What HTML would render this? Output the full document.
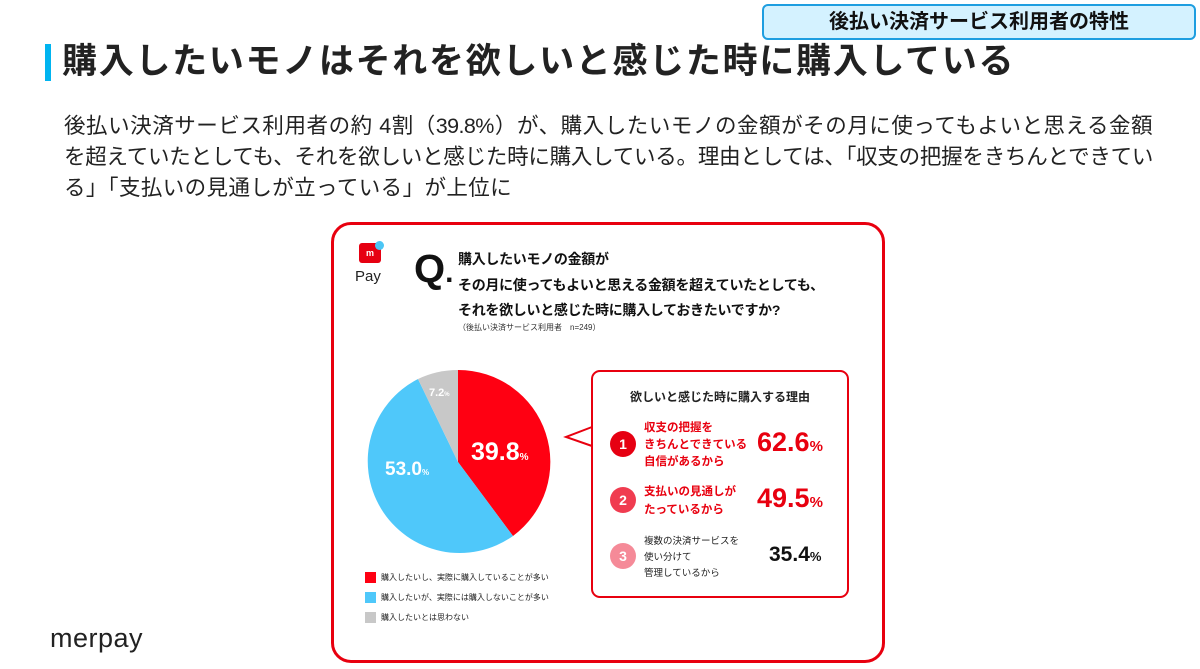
<!DOCTYPE html>
<html><head><meta charset="utf-8"><style>
*{margin:0;padding:0;box-sizing:border-box}
body{width:1200px;height:669px;background:#fff;position:relative;overflow:hidden;font-family:"Liberation Sans","Noto Sans CJK JP",sans-serif;color:#222}
.a{position:absolute;white-space:nowrap}
.j{position:absolute;left:64px;width:1088px;font-size:21.5px;line-height:31px;color:#222;text-align:justify;text-align-last:justify;white-space:nowrap;overflow:hidden}
</style></head><body>
<div class="a" style="left:762px;top:4px;width:434px;height:36px;background:#d4f2ff;border:2px solid #1e9ee0;border-radius:6px;text-align:center;font-size:20px;font-weight:bold;line-height:32px;color:#111">後払い決済サービス利用者の特性</div>
<div class="a" style="left:45px;top:44px;width:6px;height:37px;background:#00b4f0"></div>
<div class="a" style="left:62px;top:38px;font-size:35px;font-weight:bold;line-height:48px;color:#222;letter-spacing:1.7px">購入したいモノはそれを欲しいと感じた時に購入している</div>
<div class="j" style="top:111px;letter-spacing:-0.6px">後払い決済サービス利用者の約 4割（39.8%）が、購入したいモノの金額がその月に使ってもよいと思える金額</div>
<div class="j" style="top:142px;letter-spacing:-1.4px">を超えていたとしても、それを欲しいと感じた時に購入している。理由としては、「収支の把握をきちんとできてい</div>
<div class="a" style="left:64px;top:173px;font-size:21.5px;line-height:31px;color:#222;letter-spacing:0.4px">る」「支払いの見通しが立っている」が上位に</div>

<div class="a" style="left:331px;top:222px;width:554px;height:441px;border:3px solid #e8000f;border-radius:20px"></div>
<div class="a" style="left:359px;top:243px;width:22px;height:20px;background:#e60012;border-radius:3px;color:#fff;font-size:9px;font-weight:bold;text-align:center;line-height:20px">m</div>
<div class="a" style="left:375px;top:241px;width:9px;height:9px;background:#4cc6f5;border-radius:50%"></div>
<div class="a" style="left:355px;top:268px;font-size:15px;line-height:18px;color:#222">Pay</div>
<div class="a" style="left:414px;top:246px;font-size:40px;font-weight:bold;line-height:46px;color:#111">Q<span style="font-size:30px">.</span></div>
<div class="a" style="left:458px;top:247px;font-size:14px;font-weight:bold;line-height:25.5px;color:#111;letter-spacing:-0.3px">購入したいモノの金額が<br>その月に使ってもよいと思える金額を超えていたとしても、<br>それを欲しいと感じた時に購入しておきたいですか?</div>
<div class="a" style="left:458px;top:322px;font-size:8px;color:#333">（後払い決済サービス利用者　n=249）</div>

<svg class="a" style="left:0;top:0" width="1200" height="669">
<path d="M458 462 L458 370 A92 92 0 0 1 513 536 Z" fill="#ff0012"/>
<path d="M458 462 L513 536 A92 92 0 1 1 418 379 Z" fill="#4fc8fa"/>
<path d="M458 462 L418 379 A92 92 0 0 1 458 370 Z" fill="#c8c8c8"/>
<text x="471" y="460" font-size="25" font-weight="bold" fill="#fff" font-family="Liberation Sans,sans-serif">39.8<tspan font-size="10">%</tspan></text>
<text x="385" y="475" font-size="19" font-weight="bold" fill="#fff" font-family="Liberation Sans,sans-serif">53.0<tspan font-size="8">%</tspan></text>
<text x="429" y="396" font-size="11" font-weight="bold" fill="#fff" font-family="Liberation Sans,sans-serif">7.2<tspan font-size="6">%</tspan></text>
<path d="M592 427 L566 437 L592 446" fill="#fff" stroke="#e8000f" stroke-width="2"/>
<rect x="592" y="371" width="256" height="226" rx="8" fill="none" stroke="#e8000f" stroke-width="2"/>
<rect x="593" y="428" width="3" height="17" fill="#fff"/>
<circle cx="623" cy="444" r="13" fill="#e60012"/>
<circle cx="623" cy="500" r="13" fill="#f03c50"/>
<circle cx="623" cy="556" r="13" fill="#f58a98"/>
<g font-family="Liberation Sans,sans-serif" font-weight="bold" fill="#fff" font-size="14" text-anchor="middle">
<text x="623" y="449">1</text><text x="623" y="505">2</text><text x="623" y="561">3</text></g>
</svg>
<div class="a" style="left:620px;top:388px;width:200px;text-align:center;font-size:12px;font-weight:bold;color:#222">欲しいと感じた時に購入する理由</div>
<div class="a" style="left:644px;top:420px;font-size:11.5px;font-weight:bold;line-height:17px;color:#e8000f">収支の把握を<br>きちんとできている<br>自信があるから</div>
<div class="a" style="left:757px;top:427px;font-size:27px;font-weight:bold;color:#e8000f">62.6<span style="font-size:15px">%</span></div>
<div class="a" style="left:644px;top:483px;font-size:11.5px;font-weight:bold;line-height:18px;color:#e8000f">支払いの見通しが<br>たっているから</div>
<div class="a" style="left:757px;top:483px;font-size:27px;font-weight:bold;color:#e8000f">49.5<span style="font-size:15px">%</span></div>
<div class="a" style="left:644px;top:534px;font-size:9.5px;line-height:16px;color:#222">複数の決済サービスを<br>使い分けて<br>管理しているから</div>
<div class="a" style="left:769px;top:543px;font-size:21px;font-weight:bold;color:#111">35.4<span style="font-size:13px">%</span></div>

<div class="a" style="left:365px;top:572px;width:11px;height:11px;background:#ff0012"></div>
<div class="a" style="left:365px;top:592px;width:11px;height:11px;background:#4fc8fa"></div>
<div class="a" style="left:365px;top:612px;width:11px;height:11px;background:#c8c8c8"></div>
<div class="a" style="left:381px;top:572px;font-size:8px;line-height:11px;color:#222">購入したいし、実際に購入していることが多い</div>
<div class="a" style="left:381px;top:592px;font-size:8px;line-height:11px;color:#222">購入したいが、実際には購入しないことが多い</div>
<div class="a" style="left:381px;top:612px;font-size:8px;line-height:11px;color:#222">購入したいとは思わない</div>

<div class="a" style="left:50px;top:622px;font-size:27px;line-height:32px;color:#222;letter-spacing:0.5px">merpay</div>
</body></html>
